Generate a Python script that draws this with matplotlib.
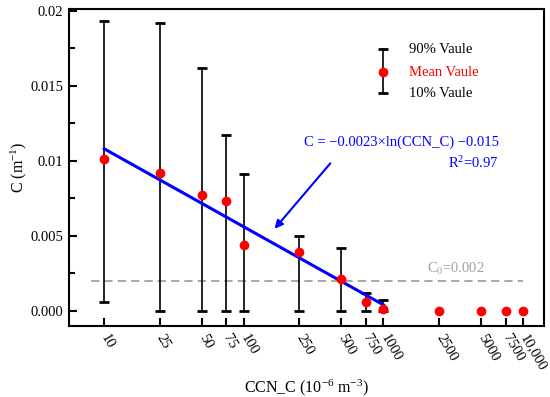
import matplotlib
matplotlib.use("Agg")
import matplotlib.pyplot as plt

plt.rcParams['font.family'] = ['Liberation Serif', 'DejaVu Serif']
plt.rcParams['mathtext.fontset'] = 'custom'
plt.rcParams['mathtext.rm'] = 'Liberation Serif'
plt.rcParams['mathtext.it'] = 'Liberation Serif:italic'
plt.rcParams['mathtext.default'] = 'regular'

# data
ccn = [10, 25, 50, 75, 100, 250, 500, 750, 1000, 2500, 5000, 7500, 10000]
tick_labels = ['10', '25', '50', '75', '100', '250', '500', '750', '1000',
               '2500', '5000', '7500', '10,000']
c_mean = [0.0101, 0.0092, 0.0077, 0.0073, 0.0044, 0.0039, 0.0021, 0.0006,
          0.00015, 0.0, 0.0, 0.0, 0.0]
c_p90 = [0.0193, 0.0192, 0.0162, 0.0117, 0.0091, 0.0050, 0.0042, 0.0012,
         0.0007, None, None, None, None]
c_p10 = [0.0006, 0.0, 0.0, 0.0, 0.0, 0.0, 0.0, 0.0, 0.0,
         None, None, None, None]
fit_x = [10, 1000]
fit_y = [0.0108, 0.0004]
c0 = 0.002

fs = 10.5

fig = plt.figure(figsize=(5.5, 3.97), dpi=100)
ax = fig.add_axes([0.1255, 0.179, 0.8635, 0.798])
ax.set_xscale('log')

# error bars (only where percentiles exist)
eb_x, eb_y, lo, hi = [], [], [], []
for x, m, p10, p90 in zip(ccn, c_mean, c_p10, c_p90):
    if p90 is None:
        continue
    eb_x.append(x)
    eb_y.append(m)
    lo.append(m - p10)
    hi.append(p90 - m)
ax.errorbar(eb_x, eb_y, yerr=[lo, hi], fmt='none', ecolor='black',
            elinewidth=1.2, capsize=3.3, capthick=2, zorder=2)

ax.plot(fit_x, fit_y, color='#0000ff', lw=2.2, zorder=3)
ax.plot(ccn, c_mean, 'o', color='#ff0000', ms=6, zorder=4)

ax.hlines(c0, 8, 10000, colors='#999999', linestyles=(0, (5, 3)), lw=1.2, zorder=1)
ax.text(3300, 0.0028, 'C$_0$=0.002', color='#a0a0a0', fontsize=fs,
        ha='center', va='center')

# custom legend
lx = 0.661
ax.plot([lx, lx], [0.735, 0.874], color='black', lw=1.2, transform=ax.transAxes)
ax.plot([lx, lx], [0.735, 0.874], '_', color='black', ms=7, mew=2,
        transform=ax.transAxes)
ax.plot([lx], [0.801], 'o', color='#ff0000', ms=6, transform=ax.transAxes)
ax.text(0.716, 0.874, '90% Vaule', fontsize=fs, va='center', transform=ax.transAxes)
ax.text(0.716, 0.801, 'Mean Vaule', fontsize=fs, va='center', color='#ff0000',
        transform=ax.transAxes)
ax.text(0.716, 0.735, '10% Vaule', fontsize=fs, va='center', transform=ax.transAxes)

# fit annotation
ax.text(0.905, 0.580, 'C = \u22120.0023\u00d7ln(CCN_C) \u22120.015', color='#0000ff',
        fontsize=fs, ha='right', va='center', transform=ax.transAxes)
ax.text(0.905, 0.514, 'R$^2$=0.97', color='#0000ff', fontsize=fs,
        ha='right', va='center', transform=ax.transAxes)
ax.annotate('', xy=(0.429, 0.300), xytext=(0.554, 0.520),
            xycoords='axes fraction', textcoords='axes fraction',
            arrowprops=dict(arrowstyle='-|>', color='#0000ff', lw=1.5,
                            mutation_scale=12))

ax.set_xlim(5.6, 14100)
ax.set_ylim(-0.001, 0.0201)
ax.set_xticks(ccn)
ax.set_xticklabels(tick_labels, rotation=-60, ha='left', va='center',
                   rotation_mode='anchor', fontsize=fs)
ax.minorticks_off()
ax.set_yticks([0, 0.005, 0.01, 0.015, 0.02])
ax.set_yticklabels(['0.000', '0.005', '0.01', '0.015', '0.02'], fontsize=fs)
ax.set_yticks([0.0025, 0.0075, 0.0125, 0.0175], minor=True)
ax.tick_params(axis='both', which='major', direction='in', length=6, width=1.5, pad=4)
ax.tick_params(axis='y', which='minor', direction='in', length=4, width=1.5)
ax.tick_params(axis='x', which='major', pad=7)
for s in ax.spines.values():
    s.set_linewidth(1.5)

ax.set_ylabel('C (m$^{-1}$)', fontsize=11.5, labelpad=1)
ax.set_xlabel('CCN_C (10$^{-6}$ m$^{-3}$)', fontsize=11.5, labelpad=3)

fig.savefig('out.png', dpi=100)
